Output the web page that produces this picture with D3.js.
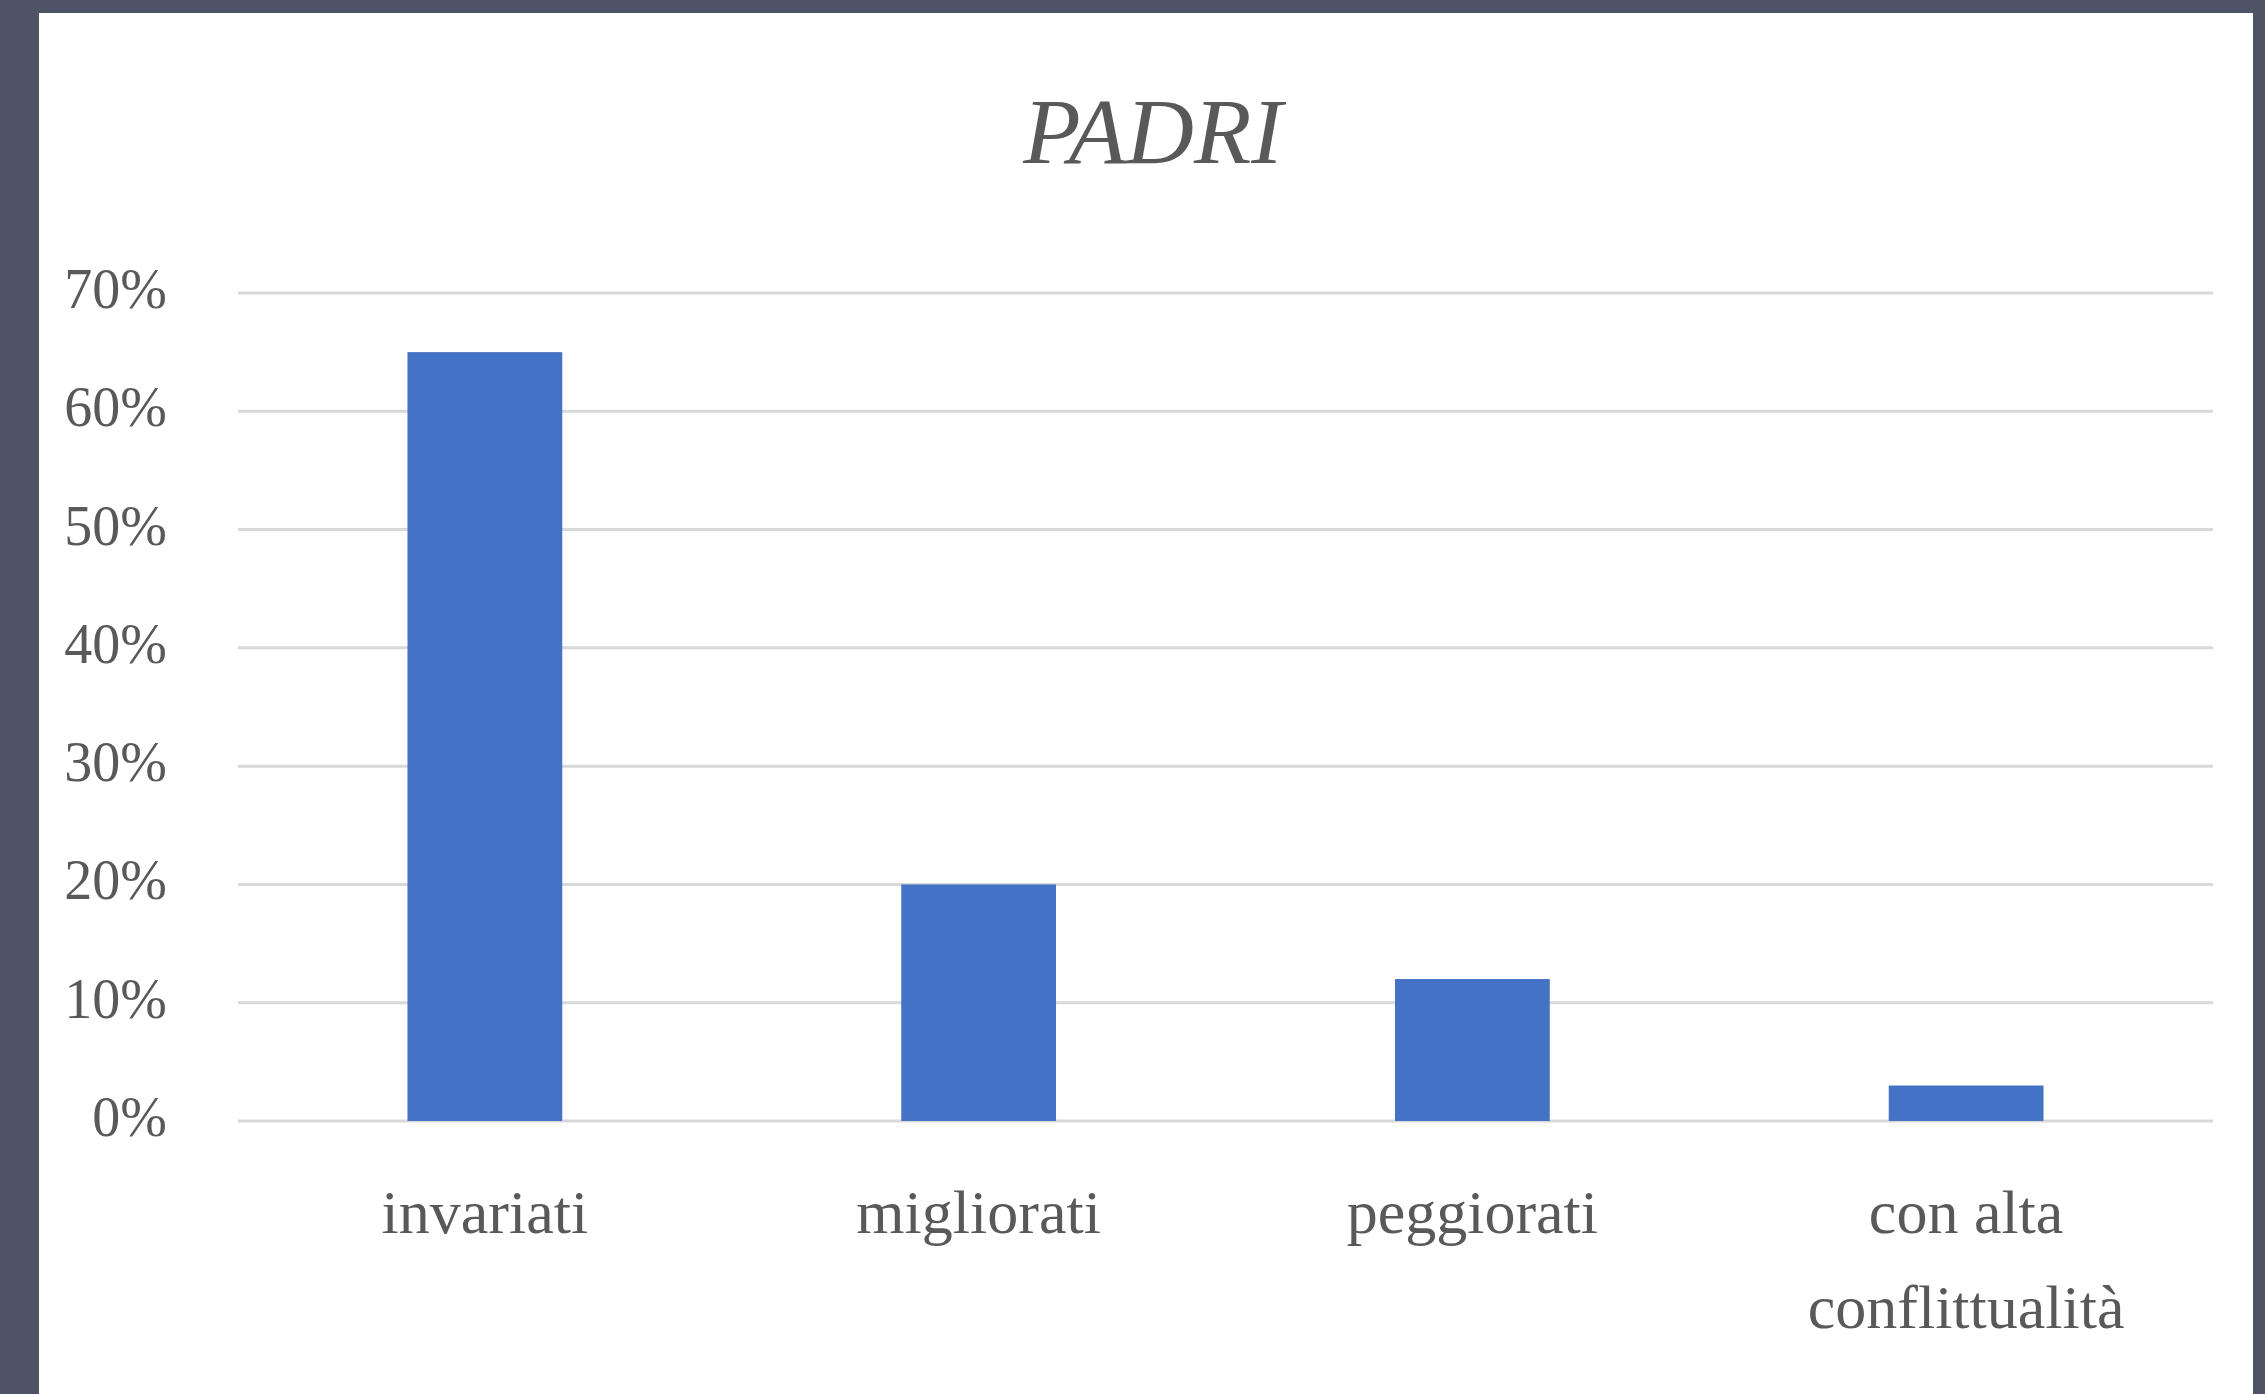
<!DOCTYPE html>
<html>
<head>
<meta charset="utf-8">
<script src="https://cdn.jsdelivr.net/npm/d3@7"></script>
<style>
  html, body { margin: 0; padding: 0; background: #4d5465; }
  svg { display: block; }
</style>
</head>
<body>
<svg id="chart"></svg>
<script>
// data
const categories = [["invariati"], ["migliorati"], ["peggiorati"], ["con alta", "conflittualità"]];
const values = [0.65, 0.20, 0.12, 0.03];
const yTicks = [0, 0.1, 0.2, 0.3, 0.4, 0.5, 0.6, 0.7];
const title = "PADRI";

function drawChart() {
    const width = 2265;
    const height = 1394;
    const font = "'Liberation Serif', 'Times New Roman', serif";
    const textColor = "#595959";

    const svg = d3.select("#chart")
        .attr("width", width)
        .attr("height", height);

    // slide background + white chart panel
    svg.append("rect")
        .attr("width", width).attr("height", height)
        .attr("fill", "#4d5465");
    svg.append("rect")
        .attr("x", 39).attr("y", 13)
        .attr("width", 2214).attr("height", height - 13)
        .attr("fill", "#ffffff");

    // plot area
    const left = 238, right = 2213, top = 293, bottom = 1121;

    const x = d3.scaleBand()
        .domain(categories.map((d, i) => i))
        .range([left, right])
        .padding(0);

    const y = d3.scaleLinear()
        .domain([0, 0.7])
        .range([bottom, top]);

    // gridlines
    svg.append("g")
        .selectAll("line")
        .data(yTicks)
        .enter()
        .append("line")
        .attr("x1", left).attr("x2", right)
        .attr("y1", d => y(d)).attr("y2", d => y(d))
        .attr("stroke", "#d9d9d9")
        .attr("stroke-width", 3);

    // y tick labels
    svg.append("g")
        .selectAll("text")
        .data(yTicks)
        .enter()
        .append("text")
        .attr("x", 167)
        .attr("y", d => y(d) + 15)
        .attr("text-anchor", "end")
        .attr("font-family", font)
        .attr("font-size", 56)
        .attr("fill", textColor)
        .text(d3.format(".0%"));

    // bars (Excel gap width ~219%)
    const barWidth = x.bandwidth() / 3.19;
    svg.append("g")
        .selectAll("rect")
        .data(values)
        .enter()
        .append("rect")
        .attr("x", (d, i) => x(i) + (x.bandwidth() - barWidth) / 2)
        .attr("y", d => y(d))
        .attr("width", barWidth)
        .attr("height", d => bottom - y(d))
        .attr("fill", "#4472c4");

    // category labels
    const labels = svg.append("g")
        .selectAll("text")
        .data(categories)
        .enter()
        .append("text")
        .attr("text-anchor", "middle")
        .attr("font-family", font)
        .attr("font-size", 62)
        .attr("fill", textColor);

    labels.selectAll("tspan")
        .data((d, i) => d.map(line => ({ line, i })))
        .enter()
        .append("tspan")
        .attr("x", d => x(d.i) + x.bandwidth() / 2)
        .attr("y", (d, j) => 1233 + j * 95)
        .text(d => d.line);

    // title
    svg.append("text")
        .attr("x", 1153)
        .attr("y", 163)
        .attr("text-anchor", "middle")
        .attr("font-family", font)
        .attr("font-style", "italic")
        .attr("font-size", 94)
        .attr("fill", textColor)
        .text(title);
}

drawChart();
</script>
</body>
</html>
